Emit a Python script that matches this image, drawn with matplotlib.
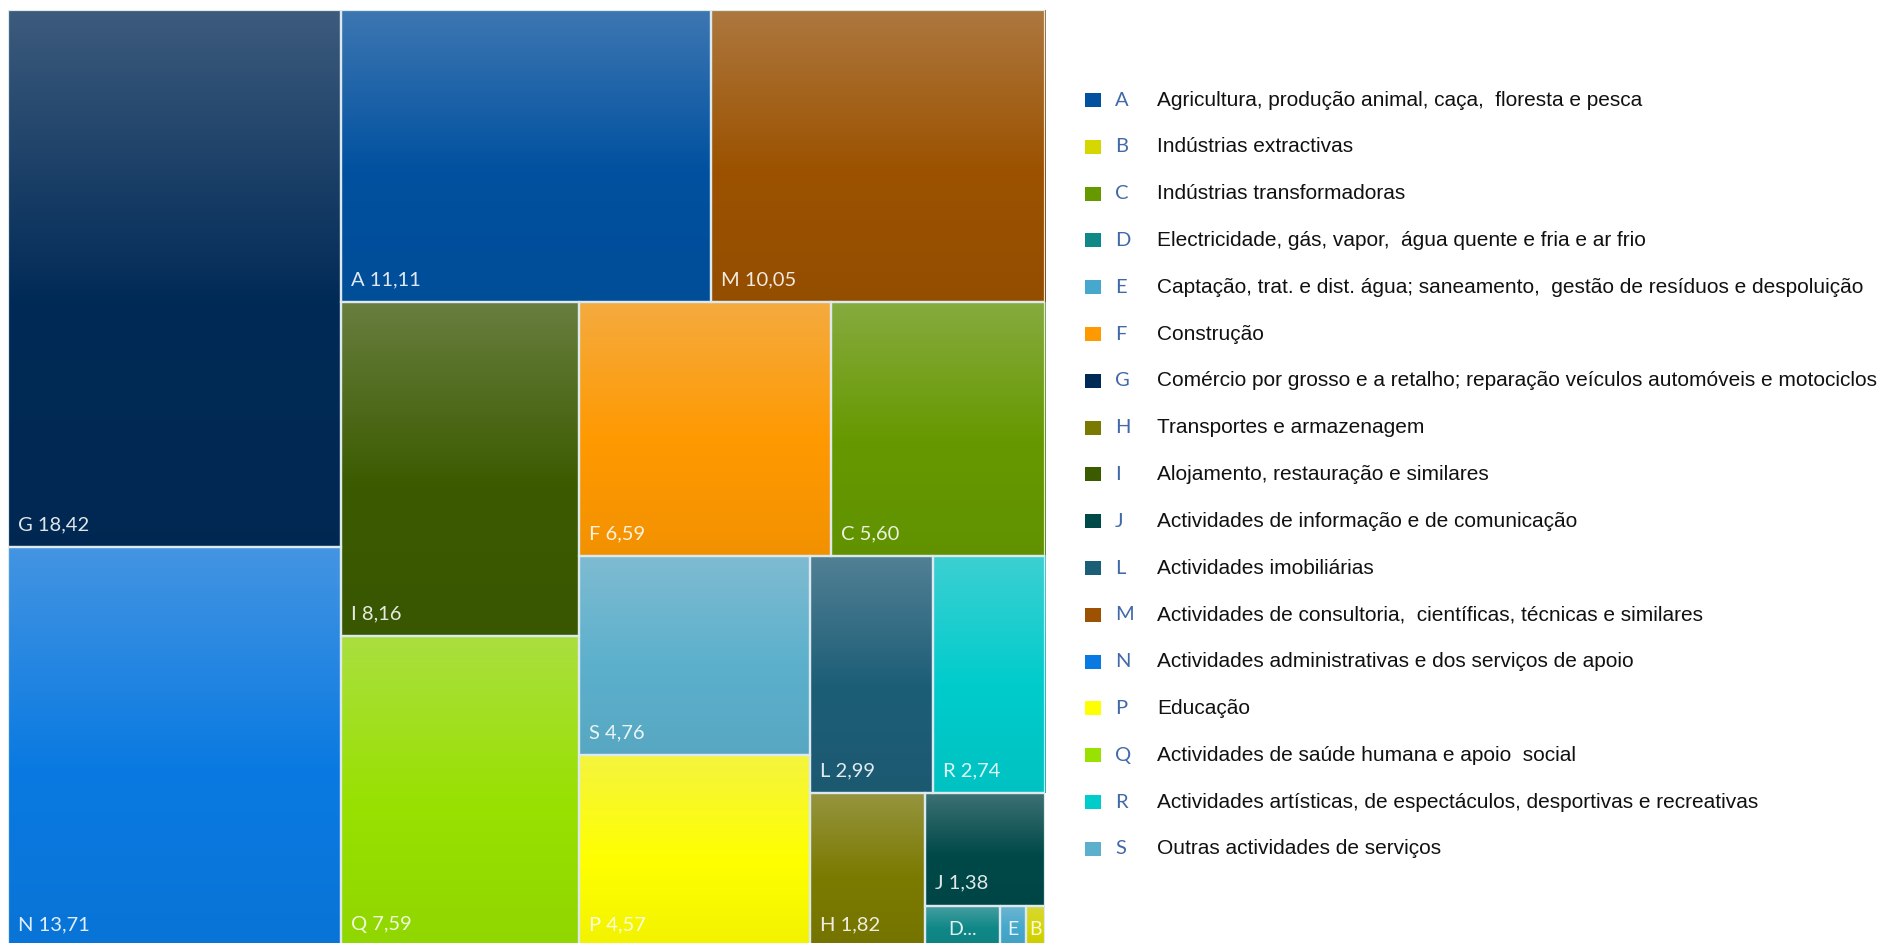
# -*- coding: utf-8 -*-
import matplotlib
matplotlib.use('Agg')
import matplotlib.pyplot as plt
from matplotlib.patches import Rectangle
from matplotlib.colors import to_rgb
import numpy as np

# Data: sectors (CAE section) and share in %
codes = ['G', 'N', 'A', 'M', 'I', 'Q', 'F', 'C', 'S', 'P', 'L', 'R', 'H', 'J', 'D', 'E', 'B']
values = [18.42, 13.71, 11.11, 10.05, 8.16, 7.59, 6.59, 5.60, 4.76, 4.57, 2.99, 2.74, 1.82, 1.38, 0.32, 0.11, 0.08]

sector_colors = {
    'A': '#0151a0', 'B': '#d6d600', 'C': '#669900', 'D': '#108888', 'E': '#45a8cc',
    'F': '#ff9900', 'G': '#002a56', 'H': '#7b7a00', 'I': '#3c5b00', 'J': '#004949',
    'L': '#1d5e77', 'M': '#9c5200', 'N': '#0a7ae2', 'P': '#ffff00', 'Q': '#98e100',
    'R': '#00cccc', 'S': '#5cb0cc',
}

legend_codes = ['A', 'B', 'C', 'D', 'E', 'F', 'G', 'H', 'I', 'J', 'L', 'M', 'N', 'P', 'Q', 'R', 'S']
legend_names = [
    'Agricultura, produção animal, caça,  floresta e pesca',
    'Indústrias extractivas',
    'Indústrias transformadoras',
    'Electricidade, gás, vapor,  água quente e fria e ar frio',
    'Captação, trat. e dist. água; saneamento,  gestão de resíduos e despoluição',
    'Construção',
    'Comércio por grosso e a retalho; reparação veículos automóveis e motociclos',
    'Transportes e armazenagem',
    'Alojamento, restauração e similares',
    'Actividades de informação e de comunicação',
    'Actividades imobiliárias',
    'Actividades de consultoria,  científicas, técnicas e similares',
    'Actividades administrativas e dos serviços de apoio',
    'Educação',
    'Actividades de saúde humana e apoio  social',
    'Actividades artísticas, de espectáculos, desportivas e recreativas',
    'Outras actividades de serviços',
]


# squarified treemap (with a little slack, like the office chart does)
def layout(sizes, x, y, dx, dy):
    covered = sum(sizes)
    rects = []
    if dx >= dy:
        width = covered / dy
        for s in sizes:
            rects.append((x, y, width, s / width))
            y += s / width
    else:
        height = covered / dx
        for s in sizes:
            rects.append((x, y, s / height, height))
            x += s / height
    return rects


def leftover(sizes, x, y, dx, dy):
    covered = sum(sizes)
    if dx >= dy:
        width = covered / dy
        return x + width, y, dx - width, dy
    height = covered / dx
    return x, y + height, dx, dy - height


def worst(sizes, x, y, dx, dy):
    return max(max(w / h, h / w) for (_, _, w, h) in layout(sizes, x, y, dx, dy))


def squarify(sizes, x, y, dx, dy, slack=1.13):
    if not sizes:
        return []
    if len(sizes) == 1:
        return layout(sizes, x, y, dx, dy)
    i = 1
    while i < len(sizes) and worst(sizes[:i + 1], x, y, dx, dy) <= worst(sizes[:i], x, y, dx, dy) * slack:
        i += 1
    cur, rest = sizes[:i], sizes[i:]
    lx, ly, ldx, ldy = leftover(cur, x, y, dx, dy)
    return layout(cur, x, y, dx, dy) + squarify(rest, lx, ly, ldx, ldy, slack)


FW, FH = 1884, 943
fig = plt.figure(figsize=(FW / 100, FH / 100), dpi=100)
fig.patch.set_facecolor('white')

# treemap area in pixels
TW, TH = 1037, 937
ax = fig.add_axes([8 / FW, (FH - 10 - TH) / FH, TW / FW, TH / FH])

total = sum(values)
norm = [v * TW * TH / total for v in values]
rects = squarify(norm, 0, 0, TW, TH)


def gradient(base, n=200):
    base = np.array(to_rgb(base))
    top = base + (np.array([0.85, 0.85, 0.88]) - base) * 0.28
    bottom = base * 0.95
    t = np.linspace(0, 1, n)[:, None]
    col = np.where(t < 0.55,
                   top + (base - top) * (t / 0.55),
                   base + (bottom - base) * ((t - 0.55) / 0.45))
    return np.clip(col, 0, 1)[:, None, :]


for code, val, (x, y, w, h) in zip(codes, values, rects):
    ax.imshow(gradient(sector_colors[code]), extent=(x, x + w, y + h, y),
              aspect='auto', interpolation='bilinear', zorder=1)
    ax.add_patch(Rectangle((x, y), w, h, facecolor='none', edgecolor='#dce9ee', lw=1.6, zorder=2))
    label = f'{code} {val:.2f}'.replace('.', ',')
    if w < 40:
        ax.text(x + w / 2, y + h - 12, code, ha='center', va='baseline', color='white', alpha=0.88,
                fontsize=14, family='Lato', zorder=3)
    elif w < 90:
        ax.text(x + w / 2, y + h - 12, code + '...', ha='center', va='baseline', color='white', alpha=0.88,
                fontsize=14, family='Lato', zorder=3)
    else:
        ax.text(x + 10, y + h - 17, label, ha='left', va='baseline', color='white', alpha=0.88,
                fontsize=14.5, family='Lato', zorder=3)

ax.set_xlim(0, TW)
ax.set_ylim(TH, 0)
ax.axis('off')

# legend on the right
for i, (code, name) in enumerate(zip(legend_codes, legend_names)):
    yc = 100 + 46.8 * i
    fig.patches.append(Rectangle((1085 / FW, 1 - (yc + 7) / FH), 16 / FW, 14 / FH,
                                 facecolor=sector_colors[code], edgecolor='none',
                                 transform=fig.transFigure, figure=fig))
    fig.text(1115 / FW, 1 - yc / FH, code, ha='left', va='center', color='#4169a8',
             fontsize=14.5, family='Lato')
    fig.text(1157 / FW, 1 - yc / FH, name, ha='left', va='center', color='#111111',
             fontsize=15, family='Liberation Sans')

fig.savefig('out.png', dpi=100)
